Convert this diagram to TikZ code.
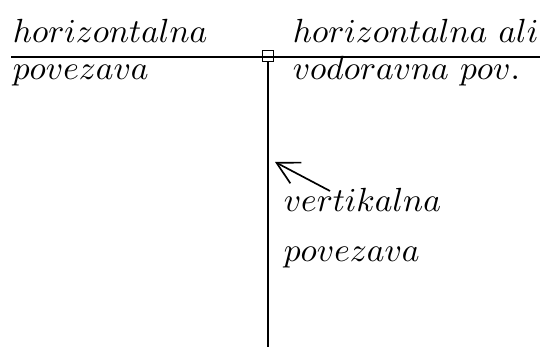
\documentclass[tikz,border=0pt]{standalone}
\usepackage{amsmath}
\usetikzlibrary{arrows.meta}

\begin{document}
\begin{tikzpicture}[>={Straight Barb[length=6.5pt,width=7pt]}, x=0.0105cm, y=-0.0105cm, line width=0.5pt,
    napis/.style={anchor=base west, inner sep=0pt}]
    % okvir slike
    \useasboundingbox (0,0) rectangle (544,349);

    % tocke
    \coordinate (levo) at (11,57);
    \coordinate (desno) at (540,57);
    \coordinate (dno) at (268,347);
    \coordinate (rep) at (330,191);
    \coordinate (konica) at (275,162);
    \node[draw, minimum size=3.3pt, inner sep=0pt, line width=0.4pt] (spoj) at (268,56) {};

    % povezave
    \draw[line width=0.35pt] (levo) -- (desno);
    \draw (spoj.south) -- (dno);
    \draw[->] (rep) -- (konica);

    % napisi
    \node[napis] (hor1) at (12,43) {$horizontalna$};
    \node[napis] (hor2) at (12,80) {$povezava$};
    \node[napis] (vod1) at (292,43) {$horizontalna\ ali$};
    \node[napis] (vod2) at (292,80) {$vodoravna\ pov.$};
    \node[napis] (ver1) at (283,212) {$vertikalna$};
    \node[napis] (ver2) at (283,262) {$povezava$};
\end{tikzpicture}
\end{document}
